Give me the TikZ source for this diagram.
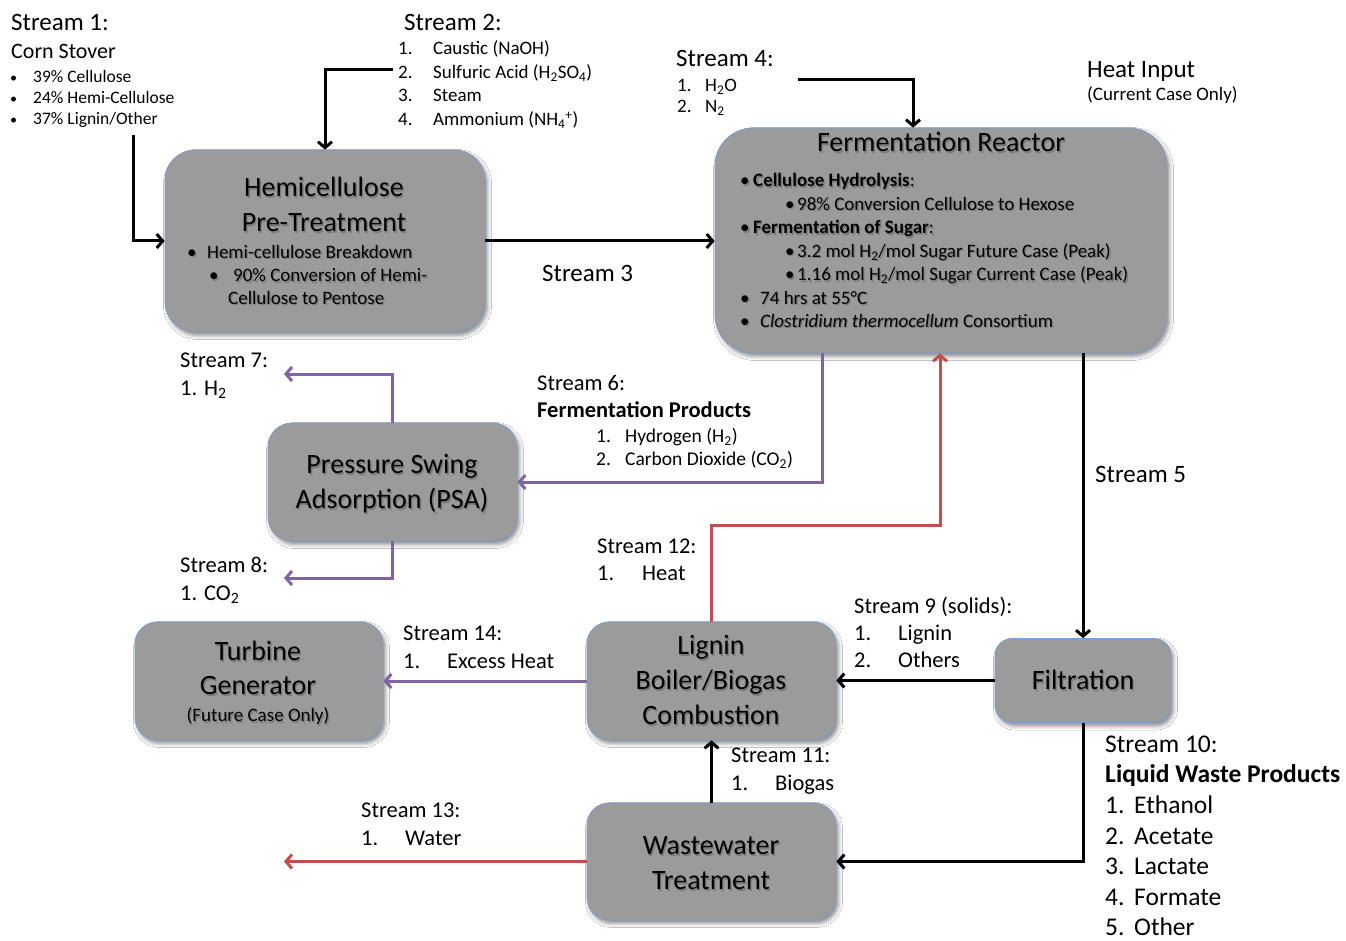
\documentclass[tikz,border=0pt]{standalone}
\usepackage{fontspec}
\setmainfont{Carlito}
\usetikzlibrary{arrows.meta,shadows.blur}
\definecolor{boxgray}{HTML}{9B9B9B}
\definecolor{boxblue}{HTML}{7A9CCF}
\definecolor{purc}{HTML}{8064A2}
\definecolor{redc}{HTML}{C0504D}
\definecolor{shc}{HTML}{7A7A7A}
\newcommand{\fs}[1]{\fontsize{#1}{#1}\selectfont}
\newcommand{\shtx}[1]{\leavevmode\rlap{\kern1.3pt\raisebox{-1.3pt}{\textcolor{shc}{#1}}}#1}
\newcommand{\sbul}{{\fontsize{14}{14}\selectfont •}}
\tikzset{
  box/.style={draw=boxblue, line width=0.7pt, fill=boxgray, inner sep=0pt,
    blur shadow={shadow xshift=2.5pt, shadow yshift=-3.5pt, shadow blur radius=4pt, shadow opacity=45}},
  lbl/.style={inner sep=0pt, anchor=base west, font=\fs{#1}, yshift=-0.315*#1},
  ctr/.style={inner sep=0pt, anchor=base, font=\fs{#1}, yshift=-0.315*#1},
  conn/.style={line width=3pt, -{Straight Barb[length=6pt, width=14pt]}},
}
\begin{document}
\begin{tikzpicture}[x=1pt,y=-1pt]
\useasboundingbox (0,0) rectangle (1346,941);
\fill[white] (0,0) rectangle (1346,941);

% ---------- boxes ----------
\node[box, minimum width=320pt, minimum height=182pt, rounded corners=30pt] (hemi) at (325,241) {};
\node[box, minimum width=452pt, minimum height=225pt, rounded corners=38pt] (ferm) at (941,240.5) {};
\node[box, minimum width=249pt, minimum height=118pt, rounded corners=24pt] (psa) at (392.5,482) {};
\node[box, minimum width=248pt, minimum height=118pt, rounded corners=22pt] (turb) at (259,681) {};
\node[box, minimum width=249pt, minimum height=118pt, rounded corners=22pt] (lign) at (711.5,681) {};
\node[box, minimum width=176pt, minimum height=84pt, rounded corners=17pt] (filt) at (1083,680.5) {};
\node[box, minimum width=249pt, minimum height=117pt, rounded corners=22pt] (waste) at (711.5,861.5) {};

% ---------- connectors ----------
\coordinate (s1o) at (133,135);
\draw[conn] (s1o) |- (hemi.west);
\coordinate (s2o) at (393,70);
\draw[conn] (s2o) -| (hemi.north);
\draw[conn] (hemi.east) -- (hemi.east -| ferm.west);
\coordinate (s4o) at (798,80);
\coordinate (s4c) at (913,80);
\draw[conn] (s4o) -- (s4c) -- (s4c |- ferm.north);
\draw[conn] (ferm.south -| filt.north) -- (filt.north);
\coordinate (s6c) at (822,482);
\draw[conn, purc] (s6c |- ferm.south) -- (s6c) -- (s6c -| psa.east);
\coordinate (s7e) at (284,374);
\draw[conn, purc] (psa.north) |- (s7e);
\coordinate (s8e) at (284,578);
\draw[conn, purc] (psa.south) |- (s8e);
\coordinate (s12c) at (940,525);
\draw[conn, redc] (lign.north) |- (s12c) -- (s12c |- ferm.south);
\draw[conn] (filt.west) -- (filt.west -| lign.east);
\draw[conn, purc] (lign.west) -- (lign.west -| turb.east);
\draw[conn] (waste.north) -- (lign.south);
\draw[conn] (filt.south) |- (waste.east);
\coordinate (s13e) at (284,861.5);
\draw[conn, redc] (waste.west) -- (s13e);

% ---------- Stream 1 ----------
\node[lbl=25] (s1h) at (11,22.5) {Stream 1:};
\node[lbl=22] (s1n) at (11,52) {Corn Stover};
\node[lbl=17.5] (s1a) at (10,76.5) {\makebox[23pt][l]{\sbul}39\% Cellulose};
\node[lbl=17.5] (s1b) at (10,97.5) {\makebox[23pt][l]{\sbul}24\% Hemi-Cellulose};
\node[lbl=17.5] (s1c) at (10,118.5) {\makebox[23pt][l]{\sbul}37\% Lignin/Other};

% ---------- Stream 2 ----------
\node[lbl=25] (s2h) at (404,22.5) {Stream 2:};
\node[lbl=19] (s2a) at (398,49) {\makebox[35pt][l]{1.}Caustic (NaOH)};
\node[lbl=19] (s2b) at (398,72.5) {\makebox[35pt][l]{2.}Sulfuric Acid (H\textsubscript{2}SO\textsubscript{4})};
\node[lbl=19] (s2c) at (398,96) {\makebox[35pt][l]{3.}Steam};
\node[lbl=19] (s2d) at (398,119.5) {\makebox[35pt][l]{4.}Ammonium (NH\textsubscript{4}\textsuperscript{+})};

% ---------- Stream 4 / heat ----------
\node[lbl=25] (s4h) at (676,59) {Stream 4:};
\node[lbl=19] (s4a) at (677,85.5) {\makebox[28pt][l]{1.}H\textsubscript{2}O};
\node[lbl=19] (s4b) at (677,107) {\makebox[28pt][l]{2.}N\textsubscript{2}};
\node[lbl=25] (heat) at (1087,69.5) {Heat Input};
\node[lbl=19] (heatb) at (1087,95) {(Current Case Only)};

% ---------- Fermentation reactor text ----------
\node[ctr=28] (fermt) at (941,143) {\shtx{Fermentation Reactor}};
\node[lbl=19] (fa) at (740,181) {\shtx{\makebox[13pt][l]{•}\textbf{Cellulose Hydrolysis}:}};
\node[lbl=19] (fb) at (785,204.5) {\shtx{\makebox[12pt][l]{•}98\% Conversion Cellulose to Hexose}};
\node[lbl=19] (fc) at (740,228) {\shtx{\makebox[13pt][l]{•}\textbf{Fermentation of Sugar}:}};
\node[lbl=19] (fd) at (785,251.5) {\shtx{\makebox[12pt][l]{•}3.2 mol H\textsubscript{2}/mol Sugar Future Case (Peak)}};
\node[lbl=19] (fe) at (785,275) {\shtx{\makebox[12pt][l]{•}1.16 mol H\textsubscript{2}/mol Sugar Current Case (Peak)}};
\node[lbl=19] (ff) at (740,298.5) {\shtx{\makebox[20pt][l]{•}74 hrs at 55°C}};
\node[lbl=19] (fg) at (740,321.5) {\shtx{\makebox[20pt][l]{•}\textit{Clostridium thermocellum} Consortium}};

% ---------- Hemicellulose text ----------
\node[ctr=28] (hemit1) at (324,188) {\shtx{Hemicellulose}};
\node[ctr=28] (hemit2) at (324,223) {\shtx{Pre-Treatment}};
\node[lbl=19] (ha) at (187,252.5) {\shtx{\makebox[20pt][l]{•}Hemi-cellulose Breakdown}};
\node[lbl=19] (hb) at (209,276) {\shtx{\makebox[24pt][l]{•}90\% Conversion of Hemi-}};
\node[lbl=19] (hc) at (228,298.5) {\shtx{Cellulose to Pentose}};

% ---------- Stream 3 / 5 ----------
\node[lbl=25] (s3) at (542,274) {Stream 3};
\node[lbl=25] (s5) at (1095,474.5) {Stream 5};

% ---------- Stream 6 ----------
\node[lbl=22.5] (s6h) at (537,383.5) {Stream 6:};
\node[lbl=22.5] (s6t) at (537,410) {\textbf{Fermentation Products}};
\node[lbl=19.5] (s6a) at (596,436.5) {\makebox[29pt][l]{1.}Hydrogen (H\textsubscript{2})};
\node[lbl=19.5] (s6b) at (596,459) {\makebox[29pt][l]{2.}Carbon Dioxide (CO\textsubscript{2})};

% ---------- Stream 7 / 8 ----------
\node[lbl=22.5] (s7h) at (180,360) {Stream 7:};
\node[lbl=22.5] (s7a) at (180,388) {1. H\textsubscript{2}};
\node[lbl=22.5] (s8h) at (180,565) {Stream 8:};
\node[lbl=22.5] (s8a) at (180,593.5) {1. CO\textsubscript{2}};

% ---------- PSA text ----------
\node[ctr=28] (psat1) at (392,465) {\shtx{Pressure Swing}};
\node[ctr=28] (psat2) at (392,500) {\shtx{Adsorption (PSA)}};

% ---------- Stream 12 ----------
\node[lbl=22.5] (s12h) at (597,546.5) {Stream 12:};
\node[lbl=22.5] (s12a) at (597,573.5) {\makebox[45pt][l]{1.}Heat};

% ---------- Stream 9 ----------
\node[lbl=22.5] (s9h) at (854,606.5) {Stream 9 (solids):};
\node[lbl=22.5] (s9a) at (854,633.5) {\makebox[44pt][l]{1.}Lignin};
\node[lbl=22.5] (s9b) at (854,660) {\makebox[44pt][l]{2.}Others};

% ---------- Stream 14 ----------
\node[lbl=22.5] (s14h) at (403,633) {Stream 14:};
\node[lbl=22.5] (s14a) at (403,661.5) {\makebox[44pt][l]{1.}Excess Heat};

% ---------- Turbine / Lignin / Filtration / Wastewater text ----------
\node[ctr=28] (turt1) at (258,652) {\shtx{Turbine}};
\node[ctr=28] (turt2) at (258,686) {\shtx{Generator}};
\node[ctr=19] (turt3) at (258,716) {\shtx{(Future Case Only)}};
\node[ctr=28] (lgt1) at (711,646) {\shtx{Lignin}};
\node[ctr=28] (lgt2) at (711,681) {\shtx{Boiler/Biogas}};
\node[ctr=28] (lgt3) at (711,716) {\shtx{Combustion}};
\node[ctr=28] (filtt) at (1083,681) {\shtx{Filtration}};
\node[ctr=28] (wwt1) at (711,846) {\shtx{Wastewater}};
\node[ctr=28] (wwt2) at (711,881) {\shtx{Treatment}};

% ---------- Stream 11 / 13 ----------
\node[lbl=22.5] (s11h) at (731,755.5) {Stream 11:};
\node[lbl=22.5] (s11a) at (731,783.5) {\makebox[44pt][l]{1.}Biogas};
\node[lbl=22.5] (s13h) at (361,810) {Stream 13:};
\node[lbl=22.5] (s13a) at (361,838) {\makebox[44pt][l]{1.}Water};

% ---------- Stream 10 ----------
\node[lbl=25.5] (s10h) at (1105,744.5) {Stream 10:};
\node[lbl=25.5] (s10t) at (1105,774) {\textbf{Liquid Waste Products}};
\node[lbl=25.5] (s10a) at (1105,805.5) {\makebox[29pt][l]{1.}Ethanol};
\node[lbl=25.5] (s10b) at (1105,836) {\makebox[29pt][l]{2.}Acetate};
\node[lbl=25.5] (s10c) at (1105,866.5) {\makebox[29pt][l]{3.}Lactate};
\node[lbl=25.5] (s10d) at (1105,897) {\makebox[29pt][l]{4.}Formate};
\node[lbl=25.5] (s10e) at (1105,927) {\makebox[29pt][l]{5.}Other};
\end{tikzpicture}
\end{document}
